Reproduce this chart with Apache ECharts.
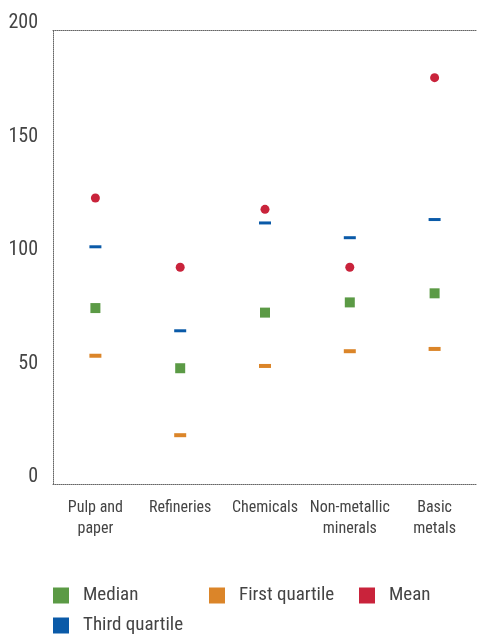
<!DOCTYPE html>
<html><head><meta charset="utf-8">
<style>html,body{margin:0;padding:0;background:#fff}#c{width:477px;height:636px}</style>
<script src="https://cdn.jsdelivr.net/npm/echarts@6/dist/echarts.min.js"></script>
</head><body><div id="c"></div>
<script>
var categories = ['Pulp and\npaper', 'Refineries', 'Chemicals', 'Non-metallic\nminerals', 'Basic\nmetals'];
var median = [77.5, 51, 75.5, 80, 84];
var firstQuartile = [56.5, 21.5, 52, 58.5, 59.5];
var mean = [126, 95.5, 121, 95.5, 179];
var thirdQuartile = [104.5, 67.5, 115, 108.5, 116.5];
var yTicks = [0, 50, 100, 150, 200];

var FONT = '"Roboto Condensed", "Open Sans Condensed", "DejaVu Sans Condensed", sans-serif';
var TXT = '#444';
var dotted = {show: true, lineStyle: {color: '#666', width: 1, type: [1, 1]}};
var chart = echarts.init(document.getElementById('c'));
function legend(name, left, top) {
  return {
    data: [{name: name, icon: 'rect'}], left: left, top: top, padding: 0,
    itemWidth: 16, itemHeight: 16, selectedMode: false,
    textStyle: {fontFamily: FONT, fontSize: 19, color: TXT, padding: [0, 0, 0, 9]}
  };
}
chart.setOption({
  animation: false,
  grid: {left: 53, right: -5, top: 30, bottom: 152},
  legend: [legend('Median', 53, 586), legend('First quartile', 209, 586), legend('Mean', 359, 586), legend('Third quartile', 53, 616)],
  xAxis: [{
    type: 'category', data: categories, boundaryGap: true,
    axisLine: dotted, axisTick: {show: false},
    axisLabel: {fontFamily: FONT, fontSize: 16, color: TXT, lineHeight: 21, margin: 13, interval: 0}
  }, {
    type: 'category', data: categories, position: 'top',
    axisLine: dotted, axisTick: {show: false}, axisLabel: {show: false}
  }],
  yAxis: {
    type: 'value', min: 0, max: 200, interval: 50,
    axisLine: dotted, axisTick: {show: false}, splitLine: {show: false},
    axisLabel: {fontFamily: FONT, fontSize: 20, color: TXT, margin: 15, verticalAlign: 'bottom', padding: [0, 0, -3, 0],
      formatter: function (v) { return yTicks.indexOf(v) >= 0 ? String(v) : ''; }}
  },
  series: [
    {name: 'Median', type: 'scatter', data: median, symbol: 'rect', symbolSize: 10, itemStyle: {color: '#5b9a45', opacity: 1}},
    {name: 'First quartile', type: 'scatter', data: firstQuartile, symbol: 'rect', symbolSize: [12, 4], itemStyle: {color: '#db8529', opacity: 1}},
    {name: 'Mean', type: 'scatter', data: mean, symbol: 'circle', symbolSize: 9, itemStyle: {color: '#c9233b', opacity: 1}},
    {name: 'Third quartile', type: 'scatter', data: thirdQuartile, symbol: 'rect', symbolSize: [12, 3], itemStyle: {color: '#0a5aa8', opacity: 1}}
  ]
});
</script></body></html>
